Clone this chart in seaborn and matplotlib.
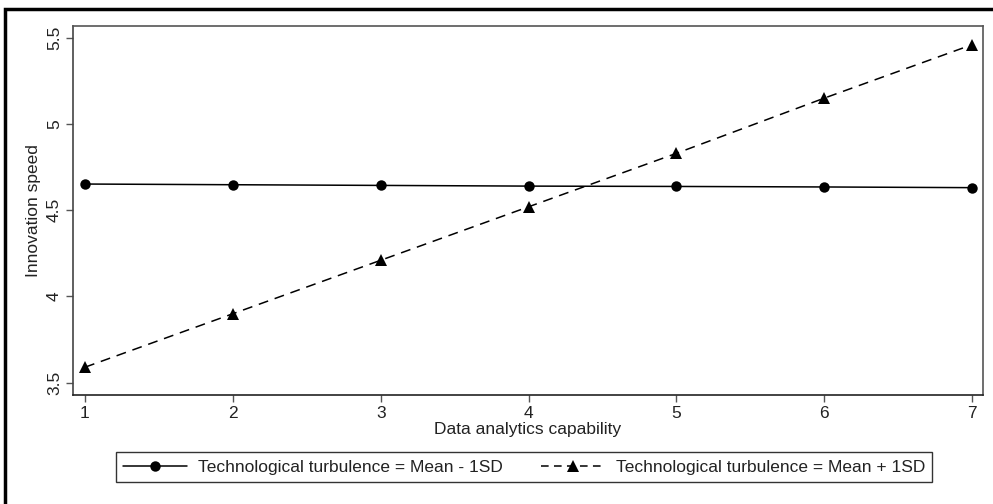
import matplotlib
matplotlib.use("Agg")
import matplotlib.pyplot as plt
from matplotlib.patches import Rectangle
from matplotlib.lines import Line2D
import seaborn as sns
import pandas as pd

# Predicted innovation speed at low / high technological turbulence
capability = [1, 2, 3, 4, 5, 6, 7]
low_turbulence = [4.652, 4.648, 4.644, 4.640, 4.638, 4.635, 4.631]
high_turbulence = [3.59, 3.90, 4.21, 4.52, 4.83, 5.15, 5.46]
series_names = ["Technological turbulence = Mean - 1SD",
                "Technological turbulence = Mean + 1SD"]
x_ticks = [1, 2, 3, 4, 5, 6, 7]
y_ticks = [3.5, 4, 4.5, 5, 5.5]
y_tick_labels = ["3.5", "4", "4.5", "5", "5.5"]

df = pd.concat([
    pd.DataFrame({"capability": capability, "speed": low_turbulence, "group": series_names[0]}),
    pd.DataFrame({"capability": capability, "speed": high_turbulence, "group": series_names[1]}),
])

sns.set_theme(style="white")
plt.rcParams["font.family"] = ["Liberation Sans", "DejaVu Sans"]

FS = 12.5
DASH = (6.5, 4.5)

fig = plt.figure(figsize=(9.93, 5.04), dpi=100)
ax = fig.add_axes([0.0735, 0.2163, 0.9165, 0.7317])

sns.lineplot(
    data=df, x="capability", y="speed", hue="group", style="group",
    palette=["black", "black"],
    dashes={series_names[0]: "", series_names[1]: DASH},
    markers={series_names[0]: "o", series_names[1]: "^"},
    markersize=7.5, linewidth=1.1, markeredgewidth=0,
    legend=False, ax=ax,
)
# slightly larger triangles
for line in ax.get_lines():
    if line.get_marker() == "^":
        line.set_markersize(9)

ax.set_xlim(0.919, 7.074)
ax.set_ylim(3.429, 5.567)
ax.set_xticks(x_ticks)
ax.set_xticklabels([str(v) for v in x_ticks])
ax.set_yticks(y_ticks)
ax.set_yticklabels(y_tick_labels, rotation=90, va="center")

ax.tick_params(axis="both", which="major", direction="out", length=5, width=1,
               color="#555555", labelsize=FS, labelcolor="#222222", pad=3,
               bottom=True, left=True)
for side in ["left", "right", "top", "bottom"]:
    ax.spines[side].set_visible(True)
    ax.spines[side].set_color("#555555")
    ax.spines[side].set_linewidth(1.2)
ax.spines["left"].set_color("#444444")
ax.spines["bottom"].set_color("#222222")

ax.set_xlabel("Data analytics capability", fontsize=FS, color="#222222", labelpad=1)
ax.set_ylabel("Innovation speed", fontsize=FS, color="#222222", labelpad=4)

handles = [
    Line2D([], [], color="black", linewidth=1.1, marker="o", markersize=7.5,
           markeredgewidth=0),
    Line2D([], [], color="black", linewidth=1.1, linestyle=(0, (5, 3.5)), marker="^",
           markersize=8.5, markeredgewidth=0),
]
leg = fig.legend(handles, series_names, ncol=2, loc="center",
                 bbox_to_anchor=(0.5277, 1 - 467 / 504), fontsize=FS,
                 frameon=True, fancybox=False, handlelength=3.7,
                 columnspacing=2.2, handletextpad=0.6, borderpad=0.42,
                 borderaxespad=0, labelcolor="#222222")
leg.get_frame().set_edgecolor("black")
leg.get_frame().set_linewidth(1.0)

# Outer frame around the whole graph
fig.patches.append(Rectangle((5 / 993, -0.05), 1.2, 1 - 9 / 504 + 0.05,
                             transform=fig.transFigure, fill=False,
                             edgecolor="black", linewidth=2.5, zorder=10))

fig.savefig("out.png", dpi=100, facecolor="white")
